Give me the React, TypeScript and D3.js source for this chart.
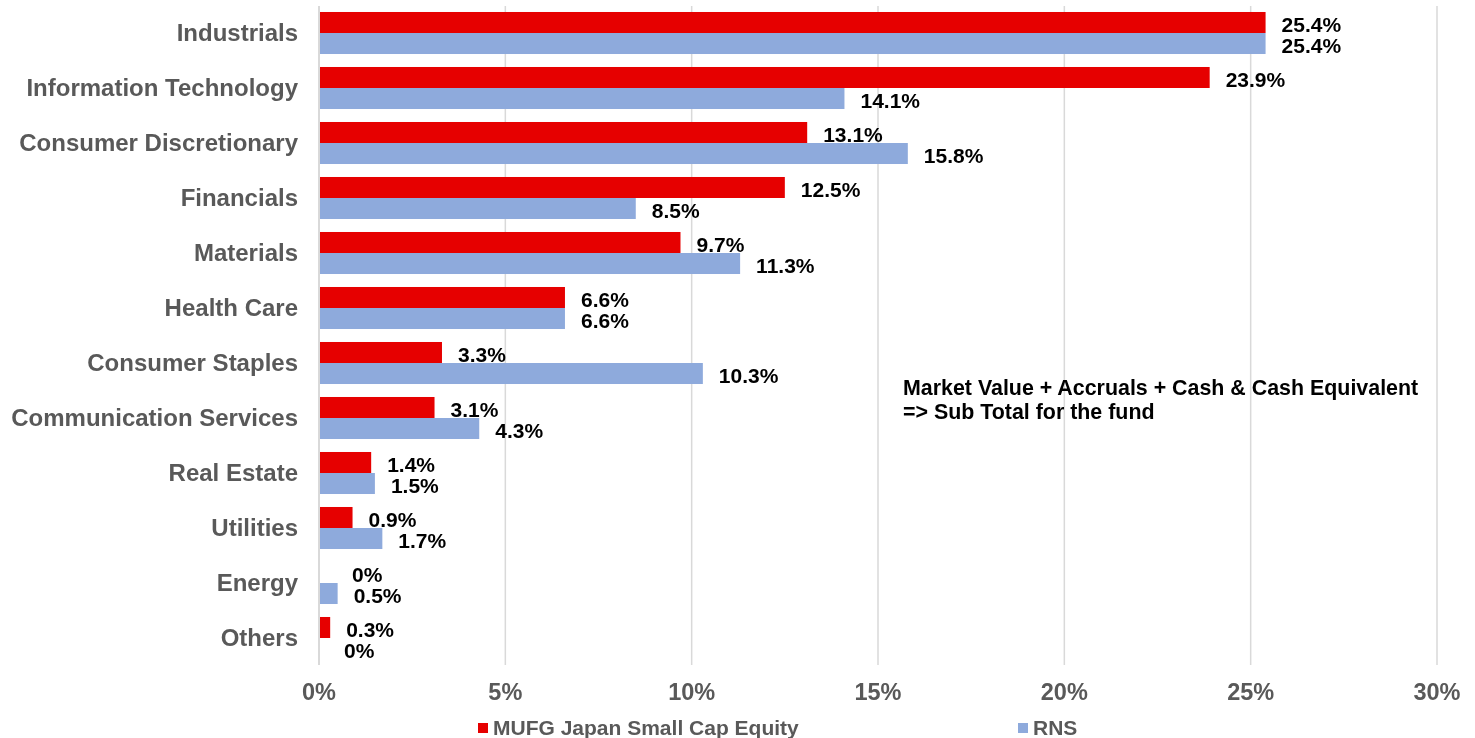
import React, { useRef, useEffect } from 'react';
import * as d3 from 'd3';

const categories = [
  'Industrials',
  'Information Technology',
  'Consumer Discretionary',
  'Financials',
  'Materials',
  'Health Care',
  'Consumer Staples',
  'Communication Services',
  'Real Estate',
  'Utilities',
  'Energy',
  'Others',
];
const fundValues = [25.4, 23.9, 13.1, 12.5, 9.7, 6.6, 3.3, 3.1, 1.4, 0.9, 0, 0.3];
const rnsValues = [25.4, 14.1, 15.8, 8.5, 11.3, 6.6, 10.3, 4.3, 1.5, 1.7, 0.5, 0];
const seriesNames = ['MUFG Japan Small Cap Equity', 'RNS'];
const xTicks = [0, 5, 10, 15, 20, 25, 30];
const noteLines = ['Market Value + Accruals + Cash & Cash Equivalent', '=> Sub Total for the fund'];

const COLORS = ['#e60000', '#8eaadc'];
const FONT = '"Liberation Sans", Arial, sans-serif';

const App = () => {
  const ref = useRef<HTMLDivElement>(null);

  useEffect(() => {
    if (!ref.current) return;
    d3.select(ref.current).selectAll('*').remove();

    const W = 1475;
    const H = 738;
    const svg = d3.select(ref.current)
      .append('svg')
      .attr('width', W)
      .attr('height', H)
      .style('display', 'block')
      .style('font-family', FONT);

    const x = d3.scaleLinear().domain([0, 30]).range([319, 1437]);
    const y = d3.scaleBand<string>()
      .domain(categories)
      .range([5.5, 665.5])
      .paddingInner(0.236)
      .paddingOuter(0.118);
    const sub = d3.scaleBand<string>()
      .domain(['0', '1'])
      .range([0, y.bandwidth()]);

    // gridlines
    svg.append('g')
      .selectAll('line')
      .data(xTicks.slice(1))
      .join('line')
      .attr('x1', d => x(d))
      .attr('x2', d => x(d))
      .attr('y1', 6)
      .attr('y2', 665)
      .attr('stroke', '#d9d9d9')
      .attr('stroke-width', 1.5);

    // tick labels
    svg.append('g')
      .selectAll('text')
      .data(xTicks)
      .join('text')
      .attr('x', d => x(d))
      .attr('y', 700)
      .attr('text-anchor', 'middle')
      .attr('font-size', 23.5)
      .attr('font-weight', 'bold')
      .attr('fill', '#595959')
      .text(d => `${d}%`);

    // category labels
    svg.append('g')
      .selectAll('text')
      .data(categories)
      .join('text')
      .attr('x', 298)
      .attr('y', d => (y(d) as number) + y.bandwidth() / 2)
      .attr('dy', '0.33em')
      .attr('text-anchor', 'end')
      .attr('font-size', 24)
      .attr('font-weight', 'bold')
      .attr('fill', '#595959')
      .text(d => d);

    const series = [fundValues, rnsValues];
    series.forEach((vals, si) => {
      const rows = categories.map((c, i) => ({ c, v: vals[i] }));
      svg.append('g')
        .selectAll('rect')
        .data(rows)
        .join('rect')
        .attr('x', x(0))
        .attr('y', d => (y(d.c) as number) + (sub(String(si)) as number))
        .attr('width', d => x(d.v) - x(0))
        .attr('height', sub.bandwidth())
        .attr('fill', COLORS[si]);

      svg.append('g')
        .selectAll('text')
        .data(rows)
        .join('text')
        .attr('x', d => (d.v === 0 ? x(0) + 25 + (si === 0 ? 8 : 0) : x(d.v) + 16))
        .attr('y', d => (y(d.c) as number) + (sub(String(si)) as number) + sub.bandwidth() / 2 + 2)
        .attr('dy', '0.35em')
        .attr('font-size', 21)
        .attr('font-weight', 'bold')
        .attr('fill', '#000')
        .text(d => (d.v === 0 ? '0%' : `${d.v.toFixed(1)}%`));
    });

    // axis line
    svg.append('line')
      .attr('x1', x(0))
      .attr('x2', x(0))
      .attr('y1', 6)
      .attr('y2', 665)
      .attr('stroke', '#d9d9d9')
      .attr('stroke-width', 2);

    // note
    svg.append('g')
      .selectAll('text')
      .data(noteLines)
      .join('text')
      .attr('x', 903)
      .attr('y', (d, i) => 395 + i * 24)
      .attr('font-size', 21.4)
      .attr('font-weight', 'bold')
      .attr('fill', '#000')
      .text(d => d);

    // legend
    const legendX = [478, 1018];
    const lg = svg.append('g')
      .selectAll('g')
      .data(seriesNames)
      .join('g')
      .attr('transform', (d, i) => `translate(${legendX[i]},0)`);
    lg.append('rect')
      .attr('x', 0)
      .attr('y', 723)
      .attr('width', 10)
      .attr('height', 10)
      .attr('fill', (d, i) => COLORS[i]);
    lg.append('text')
      .attr('x', 15)
      .attr('y', 735)
      .attr('font-size', 21)
      .attr('font-weight', 'bold')
      .attr('fill', '#595959')
      .text(d => d);
  }, []);

  return <div ref={ref} style={{ position: 'fixed', left: 0, top: 0, width: 1475, height: 738, overflow: 'hidden' }} />;
};

export default App;
